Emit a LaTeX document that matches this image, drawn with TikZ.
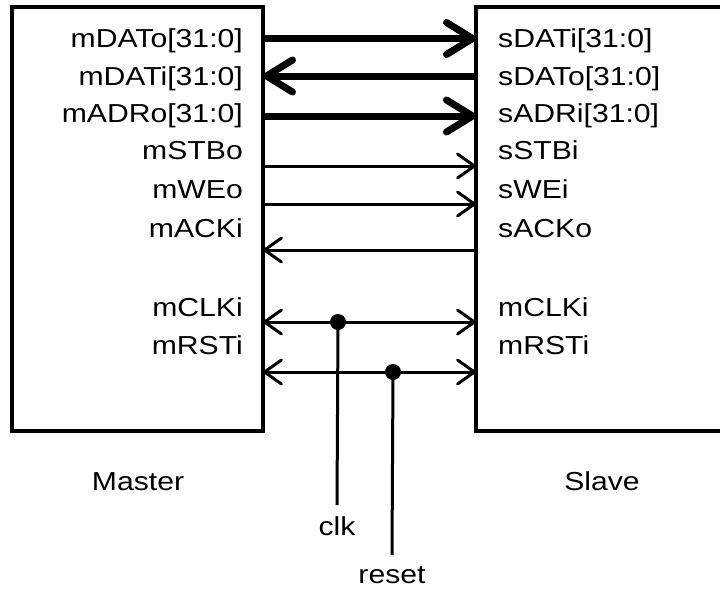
\documentclass[tikz,border=0pt]{standalone}
\usepackage{fontspec}
\setmainfont{Liberation Sans}
\usepackage{graphicx}
\usetikzlibrary{arrows.meta}
\newcommand{\wtxt}[1]{\scalebox{1.16}[1]{#1}}
\begin{document}
\begin{tikzpicture}[x=1pt,y=-1pt,
  box/.style={draw,line width=3.5pt,outer sep=0pt,inner sep=0pt,anchor=north west},
  lbl/.style={inner sep=0pt,font=\fontsize{26}{31}\selectfont},
  mlbl/.style={lbl,anchor=base east},
  slbl/.style={lbl,anchor=base west},
  bus/.style={line width=7pt,-{Straight Barb[length=26pt,width=32pt,round]}},
  sig/.style={line width=3pt,-{Straight Barb[length=17pt,width=24pt,round]}},
  bidir/.style={line width=3pt,{Straight Barb[length=17pt,width=24pt,round]}-{Straight Barb[length=17pt,width=24pt,round]}},
  wire/.style={line width=3pt},
  dot/.style={circle,fill,inner sep=0pt,minimum size=16pt}]
\useasboundingbox (0,0) rectangle (720,590);
\clip (0,0) rectangle (720,590);
\fill[white] (0,0) rectangle (720,590);

% boxes
\node[box,minimum width=251pt,minimum height=424pt] (master) at (12,7) {};
\node[box,minimum width=250pt,minimum height=424pt] (slave) at (476,7) {};

% master labels
\node[mlbl] (lm1) at (243,47)  {\wtxt{mDATo[31:0]}};
\node[mlbl] (lm2) at (243,85)  {\wtxt{mDATi[31:0]}};
\node[mlbl] (lm3) at (243,122) {\wtxt{mADRo[31:0]}};
\node[mlbl] (lm4) at (243,159) {\wtxt{mSTBo}};
\node[mlbl] (lm5) at (243,198) {\wtxt{mWEo}};
\node[mlbl] (lm6) at (243,237) {\wtxt{mACKi}};
\node[mlbl] (lm7) at (243,316) {\wtxt{mCLKi}};
\node[mlbl] (lm8) at (243,354) {\wtxt{mRSTi}};

% slave labels
\node[slbl] (ls1) at (498,47)  {\wtxt{sDATi[31:0]}};
\node[slbl] (ls2) at (498,85)  {\wtxt{sDATo[31:0]}};
\node[slbl] (ls3) at (498,122) {\wtxt{sADRi[31:0]}};
\node[slbl] (ls4) at (498,159) {\wtxt{sSTBi}};
\node[slbl] (ls5) at (498,198) {\wtxt{sWEi}};
\node[slbl] (ls6) at (498,237) {\wtxt{sACKo}};
\node[slbl] (ls7) at (498,316) {\wtxt{mCLKi}};
\node[slbl] (ls8) at (498,354) {\wtxt{mRSTi}};

% ports
\foreach \i/\s in {1/31.5,2/69,3/109,4/159,5/197,6/243,7/315,8/365}{
  \coordinate (m\i) at ([yshift=-\s pt]master.north east);
  \coordinate (s\i) at ([yshift=-\s pt]slave.north west);
}

% connectors
\draw[bus] (m1) -- (s1);
\draw[bus] (s2) -- (m2);
\draw[bus] (m3) -- (s3);
\draw[sig] (m4) -- (s4);
\draw[sig] (m5) -- (s5);
\draw[sig] (s6) -- (m6);
\draw[bidir] (m7) -- (s7);
\draw[bidir] (m8) -- (s8);

% clock and reset
\node[dot] (clkdot) at (338,322) {};
\node[dot] (rstdot) at (393,372) {};
\coordinate (clkend) at (337,505);
\coordinate (rstend) at (392,555);
\draw[wire] (clkdot.center) -- (clkend);
\draw[wire] (rstdot.center) -- (rstend);
\node[lbl,anchor=base] (clk) at (337,535) {\wtxt{clk}};
\node[lbl,anchor=base] (reset) at (392,583) {\wtxt{reset}};

% block names
\node[lbl,anchor=base] (mname) at (138,490) {\wtxt{Master}};
\node[lbl,anchor=base] (sname) at (602,490) {\wtxt{Slave}};
\end{tikzpicture}
\end{document}
